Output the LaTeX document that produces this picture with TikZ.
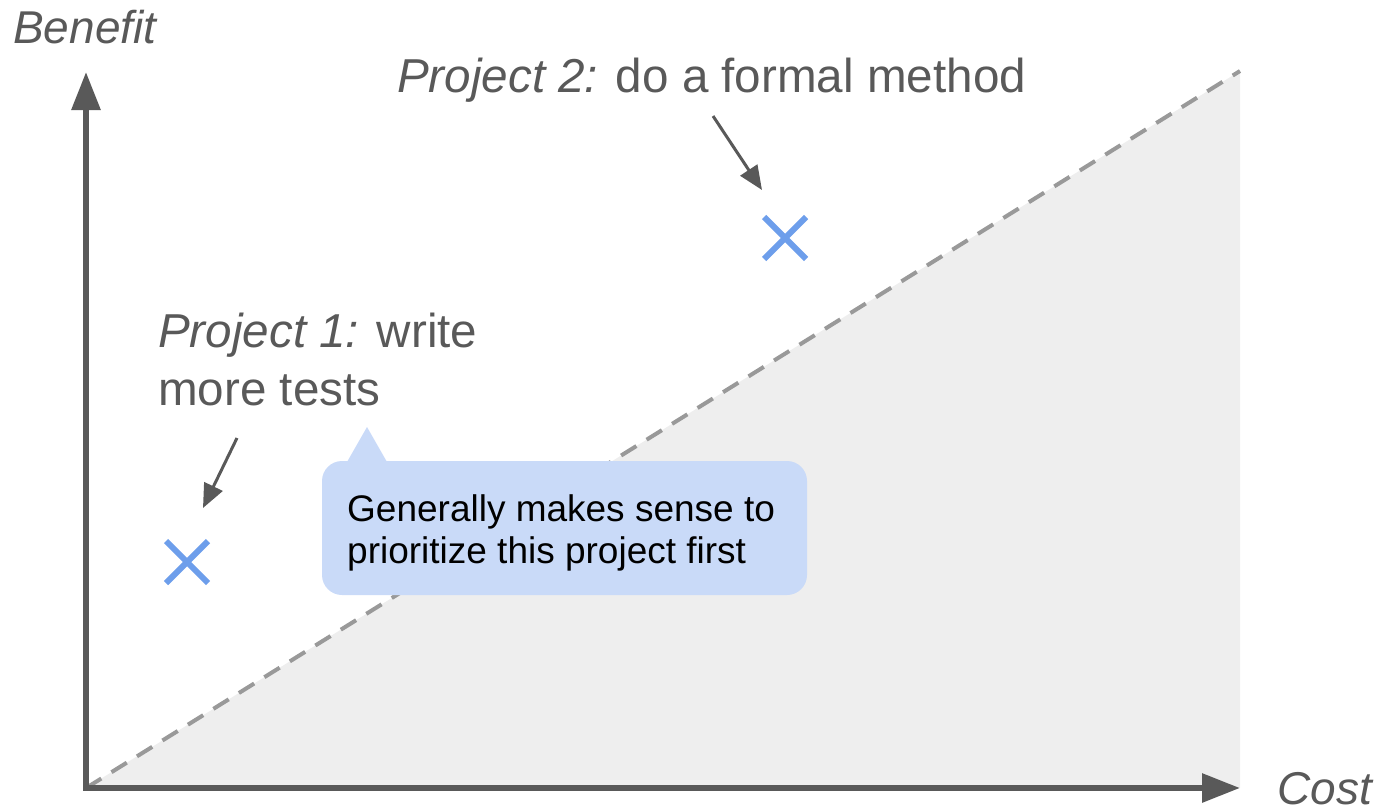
\documentclass[tikz,border=0pt]{standalone}
\usepackage{fontspec}
\setmainfont{Liberation Sans}
\usetikzlibrary{arrows.meta,shapes.misc}

\definecolor{axisgray}{HTML}{595959}
\definecolor{labelgray}{HTML}{595959}
\definecolor{regiongray}{HTML}{EEEEEE}
\definecolor{dashgray}{HTML}{999999}
\definecolor{markblue}{HTML}{6D9EEB}
\definecolor{notefill}{HTML}{C9DAF8}

\tikzset{
  axis/.style={draw=axisgray, line width=6pt, line join=miter,
    {Triangle[length=38pt,width=28pt]}-{Triangle[length=38pt,width=28pt]}},
  diagonal/.style={draw=dashgray, line width=4pt, dash pattern=on 18pt off 12pt},
  pointer/.style={draw=axisgray, line width=3pt, -{Triangle[length=24pt,width=20pt]}},
  marker/.style={cross out, draw=markblue, line width=6pt, minimum size=42pt, inner sep=0pt, outer sep=0pt},
  biglabel/.style={text=labelgray, anchor=base west, inner sep=0pt, font=\fontsize{46}{55}\selectfont\itshape},
  projlabel/.style={text=labelgray, anchor=base west, inner sep=0pt, font=\fontsize{47.6}{57}\selectfont},
  notetext/.style={text=black, anchor=base west, inner sep=0pt, font=\fontsize{37}{44}\selectfont},
}

\begin{document}
\begin{tikzpicture}[x=1pt, y=-1pt]
  \useasboundingbox (0,0) rectangle (1383,811);

  % axis corners
  \coordinate (origin) at (86,788);
  \coordinate (ytip) at (86,72);
  \coordinate (xtip) at (1240,788);
  \coordinate (diagend) at (1240,71);

  % region below the break-even line
  \fill[regiongray] (origin) -- (diagend) -- (xtip) -- cycle;
  \draw[diagonal] (origin) -- (diagend);

  % axes
  \draw[axis] (ytip) -- (origin) -- (xtip);
  \node[biglabel] (benefit) at (13,43) {Benefit};
  \node[biglabel] (cost) at (1277,804) {Cost};

  % project 2
  \node[projlabel] (p2) at (397,92) {\textit{Project 2:} do a formal method};
  \node[marker] (x2) at (785,238) {};
  \coordinate (p2from) at (713,116);
  \coordinate (p2to) at (762,190);
  \draw[pointer] (p2from) -- (p2to);

  % project 1
  \node[projlabel] (p1a) at (158,347) {\textit{Project 1:} write};
  \node[projlabel] (p1b) at (158,405) {more tests};
  \node[marker] (x1) at (187,562) {};
  \coordinate (p1from) at (237,438);
  \coordinate (p1to) at (203,508);
  \draw[pointer] (p1from) -- (p1to);

  % callout
  \fill[notefill, rounded corners=20pt] (322,461) rectangle (807,595);
  \fill[notefill] (347,462) -- (367,427) -- (387,462) -- cycle;
  \node[notetext] (note1) at (347,521) {Generally makes sense to};
  \node[notetext] (note2) at (347,563) {prioritize this project first};
\end{tikzpicture}
\end{document}
